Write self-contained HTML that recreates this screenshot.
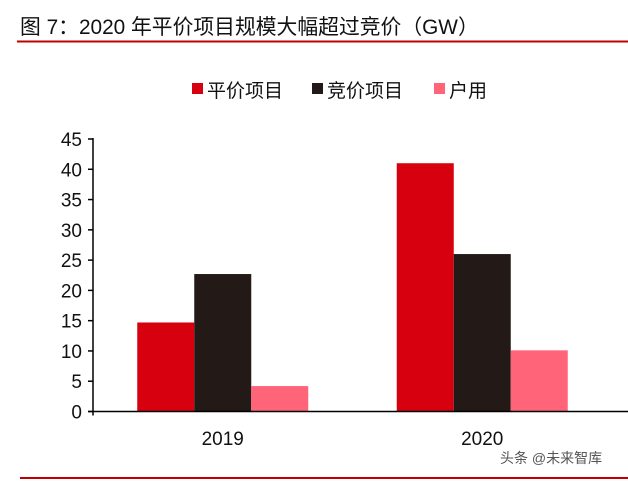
<!DOCTYPE html>
<html><head><meta charset="utf-8"><style>
body{margin:0;background:#fff;width:628px;height:481px;overflow:hidden;font-family:"Liberation Sans","Noto Sans CJK SC",sans-serif;}
</style></head><body>
<svg width="628" height="481" xmlns="http://www.w3.org/2000/svg" font-family="Liberation Sans, Noto Sans CJK SC, sans-serif">
<text x="20" y="34" font-size="20.8" fill="#111">图 7：2020 年平价项目规模大幅超过竞价（GW）</text>
<line x1="17" y1="41.5" x2="628" y2="41.5" stroke="#c00000" stroke-width="2"/>
<g font-size="19" fill="#111">
<rect x="192" y="83" width="11" height="11" fill="#d7000f"/><text x="207" y="97">平价项目</text>
<rect x="312" y="83" width="11" height="11" fill="#231916"/><text x="327" y="97">竞价项目</text>
<rect x="434" y="83" width="11" height="11" fill="#ff6478"/><text x="449" y="97">户用</text>
</g>
<g id="plot"></g>
<text x="500" y="463" font-size="14" fill="#555">头条 @未来智库</text>
<line x1="20" y1="478" x2="628" y2="478" stroke="#c00000" stroke-width="2"/>
</svg>
<script>
const categories=["2019","2020"];
const pingjia=[14.7,41];
const jingjia=[22.7,26];
const huyong=[4.2,10.1];
const ticks=[0,5,10,15,20,25,30,35,40,45];
const colors=["#d7000f","#231916","#ff6478"];
const series=[pingjia,jingjia,huyong];
const names=["pingjia","jingjia","huyong"];
const NS="http://www.w3.org/2000/svg";
const g=document.getElementById('plot');
const x0=93,x1=612,y0=411.5,yTop=139,max=45;
const y=v=>y0-(v/max)*(y0-yTop);
const cw=(x1-x0)/categories.length;
function mk(t,a){const e=document.createElementNS(NS,t);for(const k in a)e.setAttribute(k,a[k]);g.appendChild(e);return e;}
categories.forEach((c,i)=>{
  const cx=x0+cw*(i+0.5);const bw=57;
  series.forEach((s,j)=>{
    const r=mk('rect',{x:cx-1.5*bw+j*bw,y:y(s[i]),width:bw,height:y0-y(s[i]),fill:colors[j]});
    
    
  });
  const t=mk('text',{x:cx,y:445,'font-size':19,'text-anchor':'middle',fill:'#111'});t.textContent=c;
  
  
});
const ax=mk('line',{x1:x0,y1:yTop-1,x2:x0,y2:y0+4,stroke:'#000','stroke-width':1.5});


const xa=mk('line',{x1:x0-5,y1:y0,x2:628,y2:y0,stroke:'#000','stroke-width':1.5});


ticks.forEach(v=>{
  mk('line',{x1:x0-5,y1:y(v),x2:x0,y2:y(v),stroke:'#000','stroke-width':1.5});
  const t=mk('text',{x:x0-11,y:y(v)+7,'font-size':19,'text-anchor':'end',fill:'#111'});t.textContent=v;
  
  
});
</script>
</body></html>
